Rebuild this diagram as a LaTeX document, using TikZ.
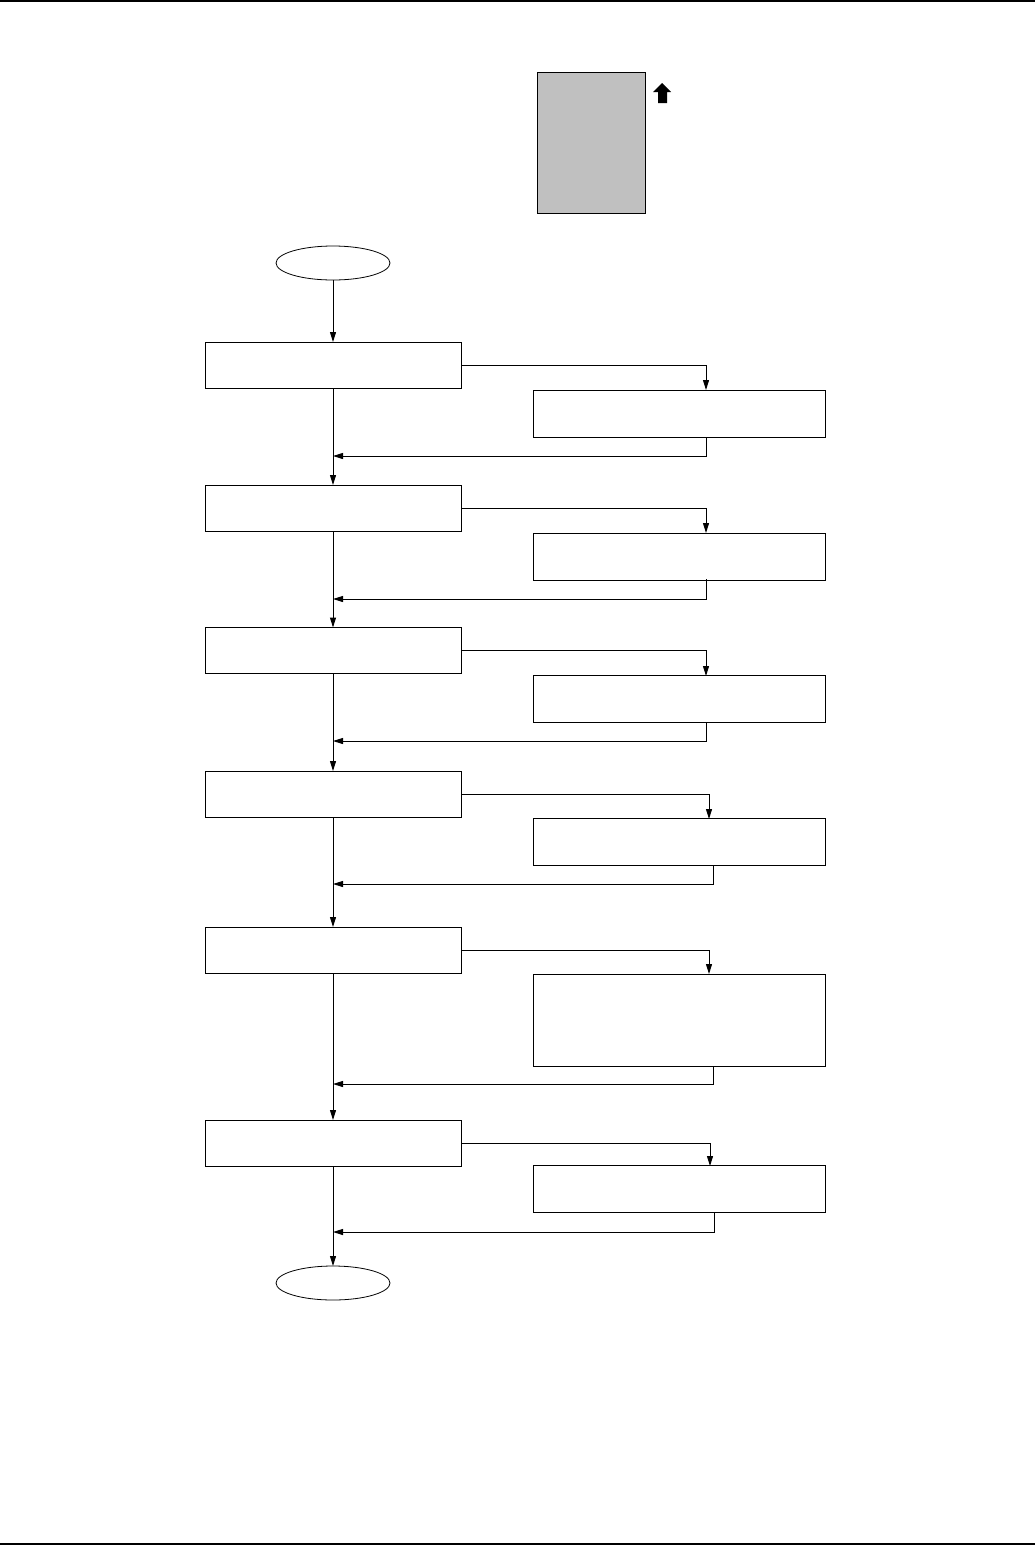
\documentclass[tikz,border=0pt]{standalone}
\usetikzlibrary{arrows.meta,shapes.geometric}
\begin{document}
\begin{tikzpicture}[x=1pt,y=-1pt,
  line width=1pt,
  arr/.style={-{Triangle[length=10pt,width=6pt]}},
  lbox/.style={draw,rectangle,minimum width=256pt,minimum height=46pt,inner sep=0pt,outer sep=0pt},
  rbox/.style={draw,rectangle,minimum width=292pt,minimum height=47pt,inner sep=0pt,outer sep=0pt},
  term/.style={draw,ellipse,minimum width=114pt,minimum height=34pt,inner sep=0pt,outer sep=0pt,line width=0.8pt},
]
\useasboundingbox (0,0) rectangle (1035,1545);
% page rules
\draw[line width=2pt] (0,1) -- (1035,1);
\draw[line width=2pt] (0,1543.5) -- (1035,1543.5);
% grey sheet and arrow
\node[draw,fill={rgb,255:red,192;green,192;blue,192},minimum width=108pt,minimum height=141pt,inner sep=0pt,outer sep=0pt] (sheet) at (591,142.5) {};
\fill (662,83) -- (671,92) -- (667,92) -- (667,103) -- (658,103) -- (658,92) -- (653,92) -- cycle;
% terminals
\node[term] (start) at (333,263) {};
\node[term] (stop) at (333,1283) {};
% left boxes
\node[lbox] (L1) at (333,365) {};
\node[lbox] (L2) at (333,508) {};
\node[lbox] (L3) at (333,650.5) {};
\node[lbox] (L4) at (333,794) {};
\node[lbox] (L5) at (333,950) {};
\node[lbox] (L6) at (333,1143) {};
% right boxes
\node[rbox] (R1) at (679,413.5) {};
\node[rbox] (R2) at (679,556.5) {};
\node[rbox] (R3) at (679,699) {};
\node[rbox] (R4) at (679,842) {};
\node[rbox,minimum height=92pt] (R5) at (679,1020) {};
\node[rbox] (R6) at (679,1189) {};
% coordinates
\coordinate (d1) at (706,390);  \coordinate (u1) at (706,437);  \coordinate (j1) at (333,456);
\coordinate (d2) at (706,533);  \coordinate (u2) at (706,579);  \coordinate (j2) at (333,599);
\coordinate (d3) at (706,676);  \coordinate (u3) at (706,722);  \coordinate (j3) at (333,741);
\coordinate (d4) at (709,819);  \coordinate (u4) at (713,865);  \coordinate (j4) at (333,884);
\coordinate (d5) at (709,974);  \coordinate (u5) at (713,1066); \coordinate (j5) at (333,1084);
\coordinate (d6) at (710,1166); \coordinate (u6) at (714,1212); \coordinate (j6) at (333,1232);
% main line
\draw[arr] (start.south) -- (L1.north);
\draw[arr] (L1.south) -- (L2.north);
\draw[arr] (L2.south) -- (L3.north);
\draw[arr] (L3.south) -- (L4.north);
\draw[arr] (L4.south) -- (L5.north);
\draw[arr] (L5.south) -- (L6.north);
\draw[arr] (L6.south) -- (stop.north);
% branches
\foreach \i in {1,...,6}{
  \draw[arr] (L\i.east) -| (d\i);
  \draw[arr] (u\i) |- (j\i);
}
\end{tikzpicture}
\end{document}
